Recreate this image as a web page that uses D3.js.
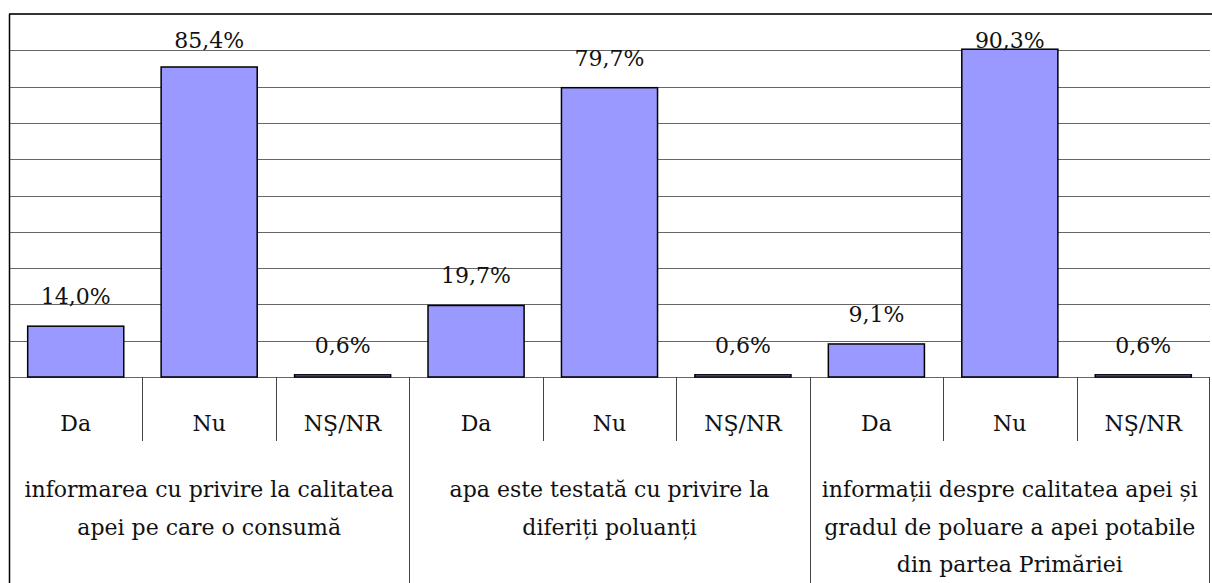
<!DOCTYPE html>
<html>
<head>
<meta charset="utf-8">
<script src="https://cdn.jsdelivr.net/npm/d3@7"></script>
<style>
  body { margin: 0; background: #fff; }
  text { font-family: "DejaVu Serif", serif; fill: #111; }
</style>
</head>
<body>
<svg></svg>
<script>
var groupLines = [
    ["informarea cu privire la calitatea", "apei pe care o consumă"],
    ["apa este testată cu privire la", "diferiți poluanți"],
    ["informații despre calitatea apei și", "gradul de poluare a apei potabile", "din partea Primăriei"]
];
var answers = ["Da", "Nu", "NŞ/NR"];
var values = [
    [14.0, 85.4, 0.6],
    [19.7, 79.7, 0.6],
    [9.1, 90.3, 0.6]
];
var gridTicks = [10, 20, 30, 40, 50, 60, 70, 80, 90];

var screen = {width: 1212, height: 583};
var plot = {left: 9, right: 1210, top: 14, bottom: 377};
var fontSize = "22px";

var svg = d3.select("svg")
    .attr("width", screen.width)
    .attr("height", screen.height);

// one slot per group/answer pair
var slots = [];
values.forEach(function(row, g){
    row.forEach(function(v, a){
        slots.push({key: g + "-" + a, group: g, answer: answers[a], value: v});
    });
});

var xScale = d3.scaleBand()
    .domain(slots.map(function(d){ return d.key; }))
    .range([plot.left, plot.right])
    .paddingInner(0.28)
    .paddingOuter(0.14);

var yScale = d3.scaleLinear()
    .domain([0, 100])
    .range([plot.bottom, plot.top]);

var step = xScale.step();
var slotLeft = function(d){ return xScale(d.key) - step * 0.14; };

// gridlines
svg.append("g")
    .selectAll("line")
    .data(gridTicks)
    .enter()
    .append("line")
    .attr("x1", plot.left)
    .attr("x2", plot.right)
    .attr("y1", function(d){ return Math.round(yScale(d)) + 0.5; })
    .attr("y2", function(d){ return Math.round(yScale(d)) + 0.5; })
    .attr("stroke", "#666")
    .attr("stroke-width", 1);

// top border
svg.append("line")
    .attr("x1", plot.left)
    .attr("x2", screen.width)
    .attr("y1", yScale(100))
    .attr("y2", yScale(100))
    .attr("stroke", "#333")
    .attr("stroke-width", 2);

// baseline
svg.append("line")
    .attr("x1", plot.left)
    .attr("x2", plot.right)
    .attr("y1", yScale(0) + 0.5)
    .attr("y2", yScale(0) + 0.5)
    .attr("stroke", "#666")
    .attr("stroke-width", 1);

// bars
svg.append("g")
    .selectAll("rect")
    .data(slots)
    .enter()
    .append("rect")
    .attr("x", function(d){ return xScale(d.key); })
    .attr("width", xScale.bandwidth())
    .attr("y", function(d){ return yScale(d.value); })
    .attr("height", function(d){ return yScale(0) - yScale(d.value); })
    .attr("fill", "#9999ff")
    .attr("stroke", "#000")
    .attr("stroke-width", 1.5);

// value labels
var fmt = d3.format(".1f");
svg.append("g")
    .selectAll("text")
    .data(slots)
    .enter()
    .append("text")
    .attr("x", function(d){ return xScale(d.key) + xScale.bandwidth() / 2; })
    .attr("y", function(d){ return Math.max(yScale(d.value) - 22, 48); })
    .attr("text-anchor", "middle")
    .style("font-size", fontSize)
    .text(function(d){ return fmt(d.value).replace(".", ",") + "%"; });

// category table: short dividers between answers, long ones between groups
var table = svg.append("g");
slots.forEach(function(d, i){
    var x = Math.round(slotLeft(d)) + 0.5;
    var isGroupStart = i % answers.length == 0;
    table.append("line")
        .attr("x1", x).attr("x2", x)
        .attr("y1", isGroupStart && i == 0 ? plot.top : plot.bottom)
        .attr("y2", isGroupStart ? screen.height : 441)
        .attr("stroke", i == 0 ? "#000" : "#444")
        .attr("stroke-width", i == 0 ? 1.5 : 1);
});
table.append("line")
    .attr("x1", plot.right - 0.5).attr("x2", plot.right - 0.5)
    .attr("y1", plot.bottom).attr("y2", screen.height)
    .attr("stroke", "#444");

// answer labels
table.selectAll(".ans")
    .data(slots)
    .enter()
    .append("text")
    .attr("class", "ans")
    .attr("x", function(d){ return slotLeft(d) + step / 2; })
    .attr("y", 431)
    .attr("text-anchor", "middle")
    .style("font-size", fontSize)
    .text(function(d){ return d.answer; });

// group labels
groupLines.forEach(function(lines, g){
    var first = slots[g * answers.length];
    var cx = slotLeft(first) + step * answers.length / 2;
    var t = table.append("text")
        .attr("text-anchor", "middle")
        .style("font-size", fontSize);
    lines.forEach(function(line, i){
        t.append("tspan")
            .attr("x", cx)
            .attr("y", 497 + i * 37.5)
            .text(line);
    });
});
</script>
</body>
</html>
